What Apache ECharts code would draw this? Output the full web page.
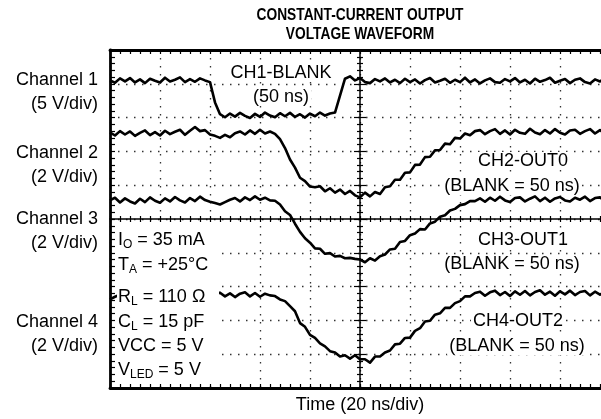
<!DOCTYPE html>
<html><head><meta charset="utf-8">
<script src="https://cdn.jsdelivr.net/npm/echarts@6/dist/echarts.min.js"></script>
<style>html,body{margin:0;padding:0;background:#fff}#c{width:601px;height:419px}</style>
</head><body><div id="c"></div>
<script>
// Time axis: ns relative to screen centre (20 ns/div), vertical: divisions from centre
const timeStartNs = -100, timeStepNs = 2;
const ch1Blank = [4.10,4.03,4.16,4.07,4.17,4.04,4.13,4.02,4.15,4.09,4.04,4.18,4.07,4.12,4.19,4.05,4.14,4.06,4.16,4.10,
  4.05,3.45,3.10,
  3.01,3.12,3.03,3.14,3.05,2.99,3.11,3.02,3.15,3.06,3.01,3.13,3.04,3.14,3.02,3.10,3.00,3.12,3.04,3.15,3.06,3.12,
  3.15,3.65,4.15,4.22,4.10,
  4.17,4.05,4.02,4.14,4.07,4.16,4.04,4.12,4.02,4.15,4.05,4.13,4.01,4.11,4.17,4.04,4.09,4.15,4.03,4.12,
  4.05,4.18,4.04,4.13,4.01,4.10,4.16,4.05,4.03,4.14,4.07,4.17,4.04,4.12,4.01,4.15,4.06,4.11,4.18,4.03,
  4.09,4.14,4.02,4.12,4.16,4.05,4.01,4.13,4.07,4.17,4.06];
const ch2Out0 = [2.56,2.47,2.60,2.50,2.59,2.46,2.55,2.62,2.48,2.57,2.47,2.61,2.51,2.58,2.64,2.49,2.61,
  2.72,2.60,2.63,2.50,2.46,2.40,2.49,2.42,
  2.54,2.59,2.50,2.62,2.52,2.64,2.53,2.59,
  2.52,2.36,2.10,1.76,1.52,1.22,1.12,0.96,0.94,0.97,0.82,0.91,0.78,0.87,0.74,0.83,0.70,0.64,0.78,0.67,0.80,
  0.74,0.94,0.97,1.16,1.16,1.37,1.38,1.60,1.61,1.83,1.84,2.03,2.04,2.23,2.21,2.40,2.38,2.53,2.48,2.60,
  2.63,2.51,2.60,2.66,2.52,2.62,2.50,2.64,2.55,2.52,2.67,2.56,2.51,2.63,2.53,2.66,2.55,2.50,2.62,2.64,
  2.52,2.60,2.66,2.53,2.63,2.51,2.59];
const ch3Out1 = [0.55,0.63,0.49,0.61,0.52,0.46,0.60,0.50,0.64,0.54,0.48,0.61,0.52,0.65,0.55,0.49,0.62,0.53,0.66,0.56,
  0.51,0.47,0.43,0.50,0.57,0.62,0.52,0.64,0.56,0.67,0.57,0.63,0.55,
  0.54,0.43,0.23,0.12,-0.14,-0.38,-0.57,-0.70,-0.87,-0.88,-1.03,-1.01,-1.11,-1.09,-1.16,-1.15,-1.18,-1.20,-1.28,-1.16,
  -1.23,-1.10,-1.05,-0.90,-0.88,-0.68,-0.65,-0.48,-0.43,-0.30,-0.31,-0.13,-0.08,0.07,0.11,0.25,0.30,0.41,0.44,0.53,0.53,
  0.61,0.51,0.63,0.54,0.66,0.55,0.50,0.62,0.64,0.52,0.60,0.67,0.53,0.63,0.51,0.61,0.65,0.55,0.52,0.63,
  0.57,0.66,0.53,0.62,0.64,0.52,0.59];
const ch4Out2 = [-2.38,-2.30,-2.24,-2.28,-2.22,-2.27,-2.25,-2.21,-2.28,-2.24,-2.26,-2.22,-2.29,-2.25,-2.23,-2.27,-2.21,-2.26,-2.24,-2.28,
  -2.22,-2.25,-2.18,-2.29,-2.20,-2.31,-2.21,-2.17,-2.29,-2.19,-2.30,-2.21,-2.26,
  -2.28,-2.38,-2.43,-2.58,-2.73,-3.08,-3.19,-3.43,-3.52,-3.68,-3.77,-3.91,-3.95,-4.07,-4.03,-4.13,-4.03,-4.15,-4.15,-4.25,
  -4.07,-4.07,-3.95,-3.89,-3.71,-3.69,-3.52,-3.51,-3.31,-3.23,-3.03,-3.01,-2.83,-2.79,-2.63,-2.63,-2.49,-2.43,-2.29,-2.29,-2.19,
  -2.15,-2.27,-2.17,-2.12,-2.25,-2.16,-2.28,-2.14,-2.24,-2.13,-2.26,-2.16,-2.11,-2.24,-2.15,-2.27,-2.14,-2.23,-2.12,-2.25,
  -2.16,-2.13,-2.26,-2.15,-2.24,-2.14,-2.23];

const titleLines = ['CONSTANT-CURRENT OUTPUT', 'VOLTAGE WAVEFORM'];
const channelLabels = [['Channel 1','(5 V/div)'],['Channel 2','(2 V/div)'],['Channel 3','(2 V/div)'],['Channel 4','(2 V/div)']];
const traceLabels = [['CH1-BLANK','(50 ns)'],['CH2-OUT0','(BLANK = 50 ns)'],['CH3-OUT1','(BLANK = 50 ns)'],['CH4-OUT2','(BLANK = 50 ns)']];
const conditions = ['{m|I}{s|O}{m| = 35 mA}','{m|T}{s|A}{m| = +25°C}','{m|R}{s|L}{m| = 110 Ω}','{m|C}{s|L}{m| = 15 pF}','{m|VCC = 5 V}','{m|V}{s|LED}{m| = 5 V}'];
const xName = 'Time (20 ns/div)';

const F = "'Liberation Sans', Arial, sans-serif";
const toPairs = arr => arr.map((v, i) => [timeStartNs + i * timeStepNs, v]);

const dotted = { show: true, lineStyle: { color: '#333', width: 1.3, type: [1.5, 6.5] } };
function frameX(pos, extra) {
  return Object.assign({ type: 'value', min: -100, max: 100, interval: 20, position: pos,
    axisLine: { onZero: false, lineStyle: { color: '#000', width: 2.8 } },
    axisTick: { show: true, inside: true, length: 4, lineStyle: { color: '#000', width: 1.2 } },
    minorTick: { show: true, splitNumber: 5, length: 4, lineStyle: { color: '#000', width: 1.2 } },
    axisLabel: { show: false }, splitLine: { show: false } }, extra || {});
}
function frameY(pos, extra) {
  return Object.assign({ type: 'value', min: -5, max: 5, interval: 1, position: pos,
    axisLine: { onZero: false, lineStyle: { color: '#000', width: 2.8 } },
    axisTick: { show: true, inside: true, length: 5, lineStyle: { color: '#000', width: 1.2 } },
    minorTick: { show: true, splitNumber: 5, length: 5, lineStyle: { color: '#000', width: 1.2 } },
    axisLabel: { show: false }, splitLine: { show: false } }, extra || {});
}
function centerX(inside) {
  return { type: 'value', min: -100, max: 100, interval: 20, position: 'bottom',
    axisLine: { show: inside, onZero: true, onZeroAxisIndex: 0, lineStyle: { color: '#000', width: 1.5 } },
    axisTick: { show: true, inside: inside, length: 3, lineStyle: { color: '#000', width: 1.2 } },
    minorTick: { show: true, splitNumber: 5, length: 3, lineStyle: { color: '#000', width: 1.2 } },
    axisLabel: { show: false }, splitLine: { show: false } };
}
function centerY(inside) {
  return { type: 'value', min: -5, max: 5, interval: 1, position: 'left',
    axisLine: { show: inside, onZero: true, onZeroAxisIndex: 0, lineStyle: { color: '#000', width: 1.5 } },
    axisTick: { show: true, inside: inside, length: 6, lineStyle: { color: '#000', width: 1.2 } },
    minorTick: { show: true, splitNumber: 5, length: 3, lineStyle: { color: '#000', width: 1.2 } },
    axisLabel: { show: false }, splitLine: { show: false } };
}

const graphics = [];
titleLines.forEach((t, i) => graphics.push({ type: 'text', x: 360, y: 15 + i * 19, scaleX: 0.81, z: 100,
  style: { text: t, font: "bold 17px " + F, fill: '#000', align: 'center', verticalAlign: 'middle', textAlign: 'center', textVerticalAlign: 'middle' } }));
const chY = [[80,104],[153,177],[219,243],[322,346]];
channelLabels.forEach((pair, k) => pair.forEach((t, j) => graphics.push({ type: 'text', x: 98, y: chY[k][j], z: 100,
  style: { text: t, font: "18px " + F, fill: '#000', align: 'right', verticalAlign: 'middle', textAlign: 'right', textVerticalAlign: 'middle' } })));
const trPos = [[[281,73],[281,97]],[[523,161],[512,186]],[[523,240],[512,264]],[[518,321],[517,346]]];
traceLabels.forEach((pair, k) => pair.forEach((t, j) => graphics.push({ type: 'text', x: trPos[k][j][0], y: trPos[k][j][1], z: 100,
  style: { text: t, font: "18px " + F, fill: '#000', align: 'center', verticalAlign: 'middle', textAlign: 'center', textVerticalAlign: 'middle',
    backgroundColor: '#fff', padding: [0, 2] } })));
graphics.push({ type: 'rect', shape: { x: 117, y: 226, width: 102, height: 157 }, z: 99, style: { fill: '#fff' } });
const condY = [240, 265, 297, 322, 346, 370];
conditions.forEach((t, i) => graphics.push({ type: 'text', x: 118, y: condY[i], z: 100,
  style: { text: t, fill: '#000', align: 'left', verticalAlign: 'middle', textAlign: 'left', textVerticalAlign: 'middle',
    rich: { m: { fontSize: 18, fontFamily: F, lineHeight: 22, fill: '#000' }, s: { fontSize: 12, fontFamily: F, verticalAlign: 'bottom', fill: '#000' } } } }));

const chart = echarts.init(document.getElementById('c'), null, { renderer: 'canvas' });
chart.setOption({
  backgroundColor: '#fff',
  animation: false,
  grid: { left: 110, top: 50, width: 500, height: 338, containLabel: false, outerBoundsMode: 'none' },
  xAxis: [
    frameX('bottom', { splitLine: dotted, name: xName, nameLocation: 'middle', nameGap: 8,
      nameTextStyle: { fontSize: 18, fontFamily: F, color: '#000', verticalAlign: 'top' } }),
    frameX('top'),
    centerX(true), centerX(false)
  ],
  yAxis: [
    frameY('left', { splitLine: dotted }),
    frameY('right'),
    centerY(true), centerY(false)
  ],
  series: [ch1Blank, ch2Out0, ch3Out1, ch4Out2].map((d, i) => ({
    type: 'line', name: traceLabels[i][0], xAxisIndex: 0, yAxisIndex: 0, data: toPairs(d),
    showSymbol: false, symbol: 'none', z: 3,
    lineStyle: { color: '#000', width: 2.6, join: 'round' }
  })),
  graphic: { elements: graphics }
});
</script></body></html>
